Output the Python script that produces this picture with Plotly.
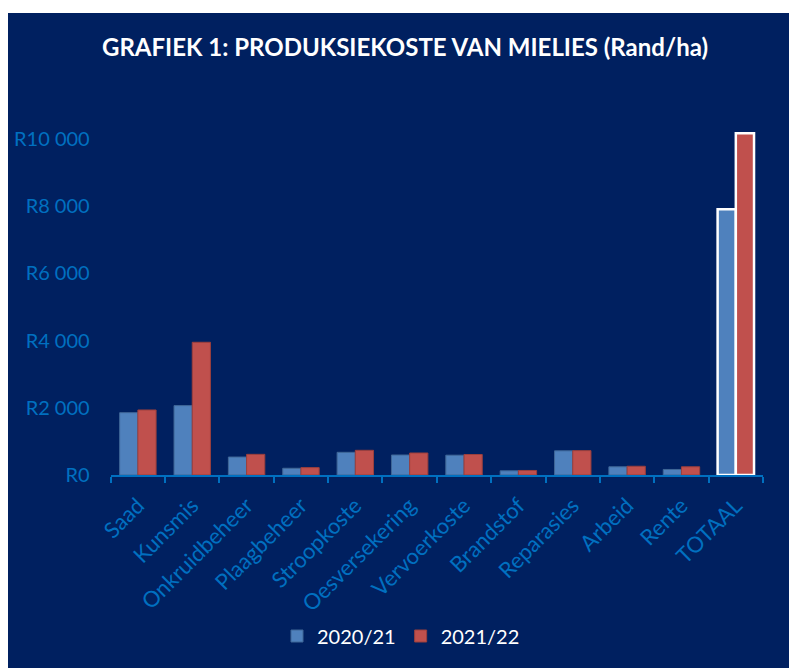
import plotly.graph_objects as go

categories = ["Saad", "Kunsmis", "Onkruidbeheer", "Plaagbeheer", "Stroopkoste",
              "Oesversekering", "Vervoerkoste", "Brandstof", "Reparasies",
              "Arbeid", "Rente", "TOTAAL"]
series_2020_21 = [1855, 2065, 535, 200, 675, 595, 590, 125, 720, 245, 165, 7910]
series_2021_22 = [1935, 3950, 615, 220, 735, 655, 610, 135, 725, 260, 245, 10170]
y_tickvals = [0, 2000, 4000, 6000, 8000, 10000]
y_ticktext = ["R0", "R2 000", "R4 000", "R6 000", "R8 000", "R10 000"]

W, H = 789, 668
NAVY = "#002060"
TICK_BLUE = "#0070C0"
BLUE = "#4F81BD"
RED = "#C0504D"

def outline(base, n):
    cols = [base] * (n - 1) + ["#FFFFFF"]
    widths = [1] * (n - 1) + [2.5]
    return cols, widths

n = len(categories)
bc, bw = outline("#3F6797", n)
rc, rw = outline("#9B3F3D", n)

fig = go.Figure()
fig.add_trace(go.Bar(name="2020/21", x=categories, y=series_2020_21,
                     marker=dict(color=BLUE, line=dict(color=bc, width=bw))))
fig.add_trace(go.Bar(name="2021/22", x=categories, y=series_2021_22,
                     marker=dict(color=RED, line=dict(color=rc, width=rw))))

y0_px, per1000 = 475, 33.6
ymax = 11000
top_px = y0_px - ymax / 1000 * per1000

fig.update_layout(
    width=W, height=H,
    margin=dict(l=0, r=0, t=0, b=0, autoexpand=False),
    paper_bgcolor=NAVY, plot_bgcolor=NAVY,
    barmode="group", bargap=0.33, bargroupgap=0.0,
    font=dict(family="Lato", color=TICK_BLUE, size=20),
    title=dict(text="<b>GRAFIEK 1: PRODUKSIEKOSTE VAN MIELIES (Rand/ha)</b>",
               x=405 / W, xanchor="center", y=1 - 48 / H, yanchor="middle",
               font=dict(family="Lato", size=24, color="white")),
    xaxis=dict(domain=[110.7 / W, 763 / W], showgrid=False, automargin=False,
               showline=True, linecolor=TICK_BLUE, linewidth=2,
               ticks="outside", ticklen=6, tickcolor=TICK_BLUE, tickwidth=2,
               tickson="boundaries", tickangle=-45,
               tickfont=dict(color=TICK_BLUE, size=22, family="Lato"),
               ticklabelstandoff=7),
    yaxis=dict(domain=[1 - y0_px / H, 1 - top_px / H], range=[0, ymax],
               showgrid=False, zeroline=False, showline=False, automargin=False,
               tickvals=y_tickvals, ticktext=y_ticktext,
               tickfont=dict(color=TICK_BLUE, size=20, family="Lato"),
               ticklabelstandoff=20),
    legend=dict(orientation="h", x=401 / W, xanchor="center",
                y=1 - 636 / H, yanchor="middle",
                font=dict(color="white", size=20, family="Lato"),
                bgcolor="rgba(0,0,0,0)", itemwidth=30),
    shapes=[
        dict(type="rect", xref="paper", yref="paper", x0=-0.5, x1=8 / W, y0=-0.5, y1=1.5,
             fillcolor="white", line=dict(width=0), layer="below"),
        dict(type="rect", xref="paper", yref="paper", x0=-0.5, x1=1.5,
             y0=1 - 13 / H, y1=1.5,
             fillcolor="white", line=dict(width=0), layer="below"),
    ],
)

fig.write_html("out.html", config={"displayModeBar": False},
               post_script="document.body.style.margin='0';document.body.style.overflow='hidden';")
